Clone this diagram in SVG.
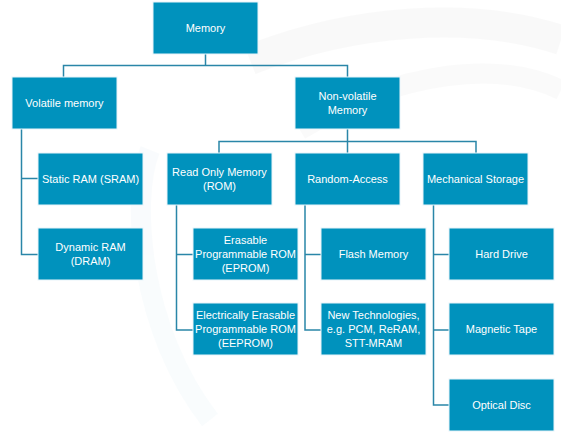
<svg xmlns="http://www.w3.org/2000/svg" width="561" height="436" viewBox="0 0 561 436">
<style>
.box{fill:#0092bd;stroke:#e8f4f9;stroke-width:1}
.t{font-family:"Liberation Sans",Arial,sans-serif;font-size:11px;fill:#ffffff;text-anchor:middle;dominant-baseline:central}
.c{fill:none;stroke:#2a86a8;stroke-width:1.5}
</style>
<rect width="561" height="436" fill="#ffffff"/>
<g id="watermark" fill="none" opacity="0.35">
<path d="M250 60 C350 20 470 10 561 40" stroke="#f0f0f0" stroke-width="30"/>
<path d="M300 130 C400 70 500 60 561 90" stroke="#f2f2f2" stroke-width="20"/>
<path d="M150 150 C130 200 140 330 210 420" stroke="#eef6fa" stroke-width="20"/>
</g>
<g id="connectors" class="c">
<path d="M205.5 54 V65.5 M63.5 77 V65.5 H347.5 V77"/>
<path d="M21.5 129 V254.5 H38 M21.5 178.5 H38"/>
<path d="M347.5 129 V141.5 M219 153 V141.5 H476 V153 M347.5 141.5 V153"/>
<path d="M176.5 205 V330 H193 M176.5 254.5 H193"/>
<path d="M305 205 V330 H322 M305 254.5 H322"/>
<path d="M433.5 205 V405 H449 M433.5 254.5 H449 M433.5 330 H449"/>
</g>
<g id="n-memory"><rect class="box" x="153" y="2" width="105" height="52"/><text class="t" x="205.5" y="28">Memory</text></g>
<g id="n-volatile"><rect class="box" x="12" y="77" width="105" height="52"/><text class="t" x="64.5" y="103">Volatile memory</text></g>
<g id="n-nonvolatile"><rect class="box" x="295" y="77" width="105" height="52"/><text class="t" x="347.5" y="96">Non-volatile</text><text class="t" x="347.5" y="110">Memory</text></g>
<g id="n-sram"><rect class="box" x="38" y="153" width="105" height="52"/><text class="t" x="90.5" y="179">Static RAM (SRAM)</text></g>
<g id="n-dram"><rect class="box" x="38" y="228" width="105" height="52"/><text class="t" x="90.5" y="247">Dynamic RAM</text><text class="t" x="90.5" y="261">(DRAM)</text></g>
<g id="n-rom"><rect class="box" x="167" y="153" width="105" height="52"/><text class="t" x="219.5" y="172">Read Only Memory</text><text class="t" x="219.5" y="186">(ROM)</text></g>
<g id="n-random"><rect class="box" x="295" y="153" width="105" height="52"/><text class="t" x="347.5" y="179">Random-Access</text></g>
<g id="n-mech"><rect class="box" x="423" y="153" width="105" height="52"/><text class="t" x="475.5" y="179">Mechanical Storage</text></g>
<g id="n-eprom"><rect class="box" x="193" y="228" width="105" height="52"/><text class="t" x="245.5" y="240">Erasable</text><text class="t" x="245.5" y="254">Programmable ROM</text><text class="t" x="245.5" y="268">(EPROM)</text></g>
<g id="n-flash"><rect class="box" x="321" y="228" width="105" height="52"/><text class="t" x="373.5" y="254">Flash Memory</text></g>
<g id="n-hdd"><rect class="box" x="449" y="228" width="105" height="52"/><text class="t" x="501.5" y="254">Hard Drive</text></g>
<g id="n-eeprom"><rect class="box" x="193" y="303" width="105" height="52"/><text class="t" x="245.5" y="315">Electrically Erasable</text><text class="t" x="245.5" y="329">Programmable ROM</text><text class="t" x="245.5" y="343">(EEPROM)</text></g>
<g id="n-newtech"><rect class="box" x="321" y="303" width="105" height="52"/><text class="t" x="373.5" y="315">New Technologies,</text><text class="t" x="373.5" y="329">e.g. PCM, ReRAM,</text><text class="t" x="373.5" y="343">STT-MRAM</text></g>
<g id="n-tape"><rect class="box" x="449" y="303" width="105" height="52"/><text class="t" x="501.5" y="329">Magnetic Tape</text></g>
<g id="n-optical"><rect class="box" x="449" y="379" width="105" height="52"/><text class="t" x="501.5" y="405">Optical Disc</text></g>
</svg>
